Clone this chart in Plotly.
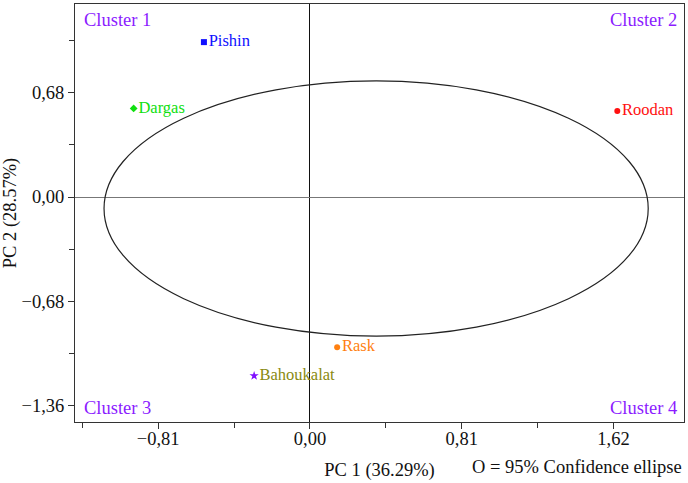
import plotly.graph_objects as go

# Data
names = ["Pishin", "Dargas", "Roodan", "Rask", "Bahoukalat"]
pc1 = [-0.566, -0.941, 1.64, 0.145, -0.298]
pc2 = [1.012, 0.579, 0.562, -0.981, -1.168]
marker_symbols = ["square", "diamond", "circle", "circle", "star"]
marker_colors = ["#1010FF", "#10E010", "#FF1010", "#FF8010", "#8010FF"]
text_colors = ["#1010FF", "#10E010", "#FF1010", "#FF8010", "#8A8A10"]

x_tickvals = [-0.81, 0.0, 0.81, 1.62]
x_ticktext = ["\u22120,81", "0,00", "0,81", "1,62"]
y_tickvals = [0.68, 0.0, -0.68, -1.36]
y_ticktext = ["0,68", "0,00", "\u22120,68", "\u22121,36"]

# 95% confidence ellipse parameters
ell_cx, ell_cy = 0.353, -0.075
ell_a, ell_b = 1.452, 0.834

clusters = ["Cluster 1", "Cluster 2", "Cluster 3", "Cluster 4"]

FONT = "Liberation Serif"
fig = go.Figure()
for n, x, y, s, mc, tc in zip(names, pc1, pc2, marker_symbols, marker_colors, text_colors):
    fig.add_trace(go.Scatter(
        x=[x], y=[y], mode="markers+text", text=[n], textposition="middle right",
        marker=dict(symbol=s, size=6 if s != "star" else 7, color=mc),
        textfont=dict(family=FONT, size=16.5, color=tc),
        showlegend=False, cliponaxis=False))

fig.add_shape(type="circle", xref="x", yref="y",
              x0=ell_cx - ell_a, x1=ell_cx + ell_a,
              y0=ell_cy - ell_b, y1=ell_cy + ell_b,
              line=dict(color="#222222", width=1.2))

cl_pos = [(0.012, 0.99, "left", "top"), (0.992, 0.99, "right", "top"),
          (0.012, 0.005, "left", "bottom"), (0.992, 0.005, "right", "bottom")]
for c, (px, py, xa, ya) in zip(clusters, cl_pos):
    fig.add_annotation(text=c, x=px, y=py, xref="paper", yref="paper",
                       xanchor=xa, yanchor=ya, showarrow=False,
                       font=dict(family=FONT, size=18.5, color="#8C1CFF"))

fig.add_annotation(text="O = 95% Confidence ellipse", x=1.0, y=-0.107,
                   xref="paper", yref="paper", xanchor="right", yanchor="middle",
                   showarrow=False, font=dict(family=FONT, size=18.5, color="#111111"))

axis_common = dict(showgrid=False, showline=True, linecolor="#333333", linewidth=1,
                   mirror=True, ticks="outside", ticklen=6, tickcolor="#333333",
                   tickfont=dict(family=FONT, size=18.5, color="#111111"),
                   zeroline=True, zerolinewidth=1)

fig.update_layout(
    width=688, height=483,
    margin=dict(l=73, r=4, t=3, b=61),
    paper_bgcolor="white", plot_bgcolor="white",
    xaxis=dict(range=[-1.254, 1.996], tickmode="array", tickvals=x_tickvals,
               ticktext=x_ticktext, zerolinecolor="#111111", ticklabelstandoff=-6,
               minor=dict(tickmode="linear", tick0=0, dtick=0.405, ticks="outside",
                          ticklen=5, tickcolor="#333333"),
               title=dict(text="PC 1 (36.29%)", font=dict(family=FONT, size=18.5, color="#111111"),
                          standoff=14),
               **axis_common),
    yaxis=dict(range=[-1.47, 1.261], tickmode="array", tickvals=y_tickvals,
               ticktext=y_ticktext, zerolinecolor="#777777",
               minor=dict(tickmode="linear", tick0=0, dtick=0.34, ticks="outside",
                          ticklen=5, tickcolor="#333333"),
               title=dict(text="PC 2 (28.57%)", font=dict(family=FONT, size=18.5, color="#111111"),
                          standoff=6),
               **axis_common),
)

fig.write_html("out.html")
